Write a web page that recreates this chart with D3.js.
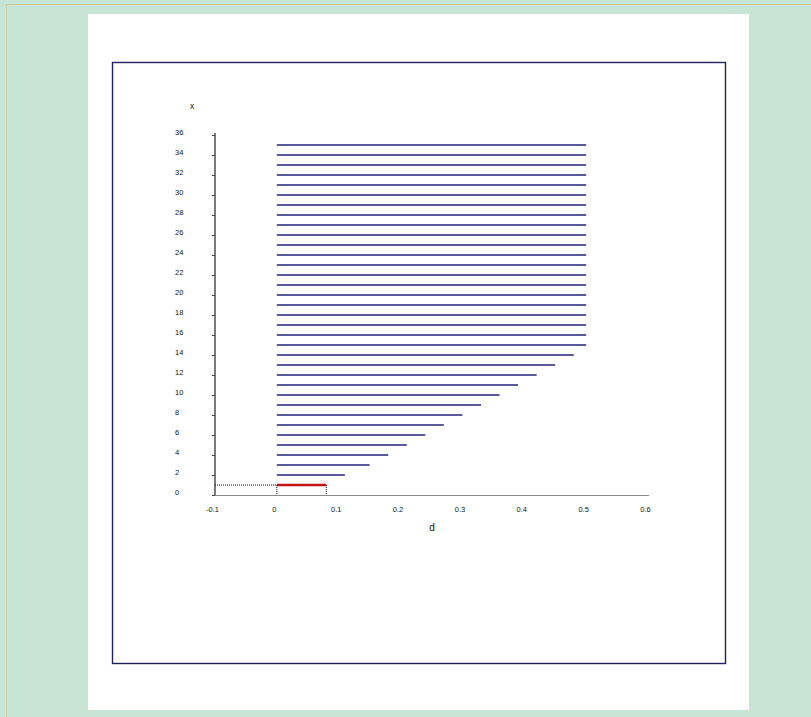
<!DOCTYPE html>
<html>
<head>
<meta charset="utf-8">
<script src="https://cdn.jsdelivr.net/npm/d3@7"></script>
<style>
  html, body { margin: 0; padding: 0; background: #c8e4d4; }
  svg { display: block; }
  text { font-family: "Liberation Sans", Arial, sans-serif; }
</style>
</head>
<body>
<svg id="chart" width="811" height="717"></svg>
<script>
// x values (one horizontal segment per x) and the d reached by each segment
const xValues = [1, 2, 3, 4, 5, 6, 7, 8, 9, 10, 11, 12, 13, 14, 15, 16, 17, 18,
  19, 20, 21, 22, 23, 24, 25, 26, 27, 28, 29, 30, 31, 32, 33, 34, 35];
const dValues = [0.08, 0.11, 0.15, 0.18, 0.21, 0.24, 0.27, 0.30, 0.33, 0.36, 0.39,
  0.42, 0.45, 0.48, 0.50, 0.50, 0.50, 0.50, 0.50, 0.50, 0.50, 0.50, 0.50, 0.50,
  0.50, 0.50, 0.50, 0.50, 0.50, 0.50, 0.50, 0.50, 0.50, 0.50, 0.50];
// highlighted segment
const highlightX = 1;
// tick labels
const dTicks = [-0.1, 0, 0.1, 0.2, 0.3, 0.4, 0.5, 0.6];
const dTickLabels = ["-0.1", "0", "0.1", "0.2", "0.3", "0.4", "0.5", "0.6"];
const xTicks = [0, 2, 4, 6, 8, 10, 12, 14, 16, 18, 20, 22, 24, 26, 28, 30, 32, 34, 36];
const dTitle = "d";
const xTitle = "x";

const svg = d3.select("#chart");

// page background pieces
svg.append("rect").attr("x", 0).attr("y", 0).attr("width", 811).attr("height", 717).attr("fill", "#c8e4d4");
svg.append("line").attr("x1", 6).attr("x2", 811).attr("y1", 4.5).attr("y2", 4.5)
  .attr("stroke", "#c9c89c").attr("stroke-width", 1);
svg.append("line").attr("x1", 6.5).attr("x2", 6.5).attr("y1", 4).attr("y2", 717)
  .attr("stroke", "#d2d0a8").attr("stroke-width", 1);
svg.append("rect").attr("x", 88).attr("y", 14).attr("width", 661).attr("height", 696).attr("fill", "#fff");
svg.append("rect").attr("x", 112.5).attr("y", 62.5).attr("width", 613).attr("height", 601)
  .attr("fill", "none").attr("stroke", "#22225a").attr("stroke-width", 1.4);

// scales
const x = d3.scaleLinear().domain([-0.1, 0.6]).range([215, 648]);
const y = d3.scaleLinear().domain([0, 36]).range([495, 135]);

// y axis
const yAxis = svg.append("g").attr("transform", "translate(215,0)")
  .call(d3.axisLeft(y).tickValues(xTicks).tickSize(3).tickFormat(d3.format("d")));
yAxis.select(".domain").attr("d", "M0,133V495").attr("stroke", "#222").attr("stroke-width", 1.2);
yAxis.selectAll(".tick line").attr("stroke", "#444").attr("stroke-width", 1);
yAxis.selectAll(".tick text")
  .attr("x", -40).attr("dy", "-0.1em").attr("text-anchor", "start")
  .style("font-size", "7.5px").style("fill", "#111");

// x axis (dotted)
const xAxis = svg.append("g").attr("transform", "translate(0,495)")
  .call(d3.axisBottom(x).tickValues(dTicks).tickSize(0).tickPadding(12)
    .tickFormat((d, i) => dTickLabels[i]));
xAxis.select(".domain").attr("stroke", "#111").attr("stroke-width", 1).attr("stroke-dasharray", "1,1");
xAxis.selectAll(".tick text").attr("dx", -3).style("font-size", "7.5px").style("fill", "#111");

// axis titles
svg.append("text").attr("x", 432).attr("y", 531).attr("text-anchor", "middle")
  .style("font-size", "10px").style("fill", "#111").text(dTitle);
svg.append("text").attr("x", 192).attr("y", 109).attr("text-anchor", "middle")
  .style("font-size", "8.5px").style("fill", "#111").text(xTitle);

const data = xValues.map((v, i) => ({ x: v, d: dValues[i] }));

// segments
svg.append("g").selectAll("line").data(data).join("line")
  .attr("x1", x(0)).attr("x2", d => x(d.d))
  .attr("y1", d => y(d.x)).attr("y2", d => y(d.x))
  .attr("stroke", d => d.x === highlightX ? "#c41414" : "#23237a")
  .attr("stroke-width", d => d.x === highlightX ? 2.6 : 1.4);

// dotted guides to the highlighted segment
const h = data.find(d => d.x === highlightX);
const guides = svg.append("g").attr("stroke", "#111").attr("stroke-width", 1).attr("stroke-dasharray", "1,1");
guides.append("line").attr("x1", x(-0.1)).attr("x2", x(0)).attr("y1", y(h.x)).attr("y2", y(h.x));
guides.append("line").attr("x1", x(0)).attr("x2", x(0)).attr("y1", y(h.x)).attr("y2", y(0));
guides.append("line").attr("x1", x(h.d)).attr("x2", x(h.d)).attr("y1", y(h.x)).attr("y2", y(0));
</script>
</body>
</html>
